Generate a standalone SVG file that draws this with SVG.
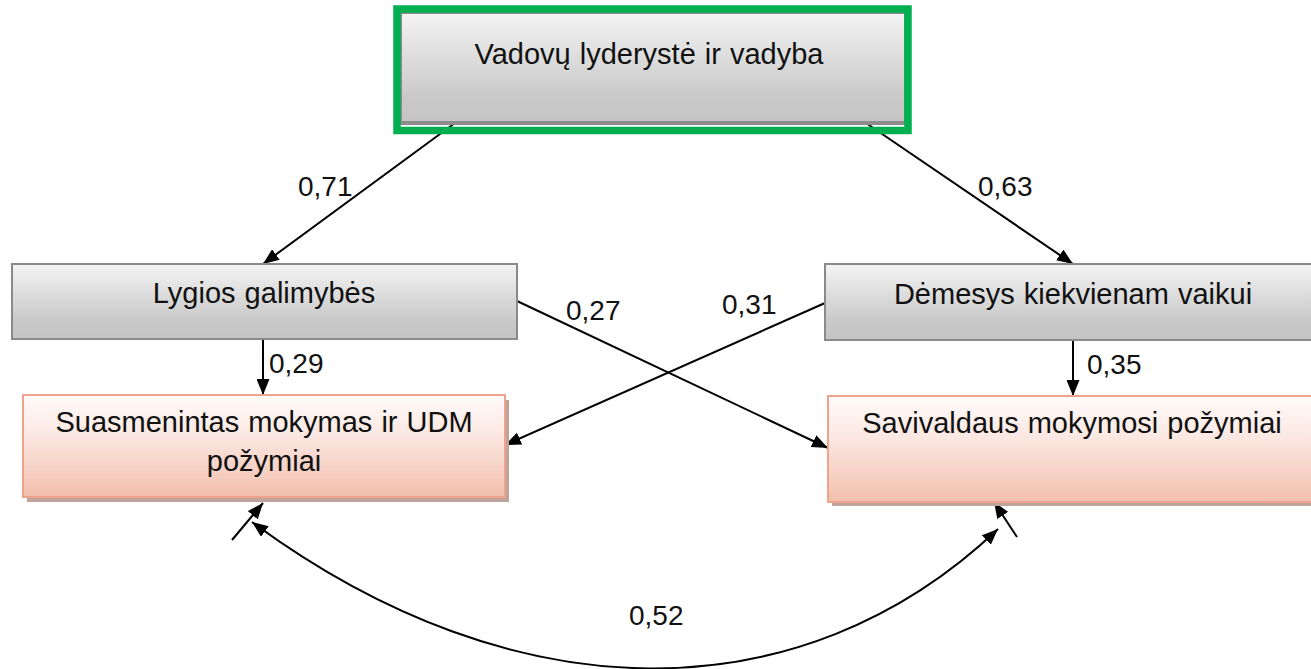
<svg xmlns="http://www.w3.org/2000/svg" width="1311" height="669" viewBox="0 0 1311 669">
<style>
text{font-family:"Liberation Sans",Arial,sans-serif;font-size:28px;fill:#111;}
.lbl{text-anchor:middle;font-size:29px;word-spacing:1px;}
.num{text-anchor:start;}
.gray{fill:url(#gGray);stroke:#8a8a8a;stroke-width:2;}
.pink{fill:url(#gPink);stroke:#eea38c;stroke-width:2;}
.shadow{fill:#bfa49b;}
.conn{fill:none;stroke:#000;stroke-width:2;marker-end:url(#ah);}
</style>
<defs>
<linearGradient id="gGray" x1="0" y1="0" x2="0" y2="1">
<stop offset="0" stop-color="#f4f4f4"/>
<stop offset="0.75" stop-color="#c9c9c9"/>
<stop offset="1" stop-color="#c4c4c4"/>
</linearGradient>
<linearGradient id="gPink" x1="0" y1="0" x2="0" y2="1">
<stop offset="0" stop-color="#fffbfa"/>
<stop offset="0.4" stop-color="#fbe7e1"/>
<stop offset="1" stop-color="#f2bfad"/>
</linearGradient>
<marker id="ah" viewBox="0 0 16 13" refX="16" refY="6.5" markerWidth="16" markerHeight="13" markerUnits="userSpaceOnUse" orient="auto-start-reverse">
<path d="M0,0 L16,6.5 L0,13 z" fill="#000"/>
</marker>
</defs>

<g id="connectors">
<line class="conn" x1="455" y1="123" x2="263" y2="264"/>
<line class="conn" x1="866" y1="123" x2="1073" y2="264"/>
<line class="conn" x1="263" y1="339" x2="263" y2="395"/>
<line class="conn" x1="1073" y1="340" x2="1073" y2="396"/>
<line class="conn" x1="517" y1="301" x2="828" y2="448"/>
<line class="conn" x1="825" y1="303" x2="505" y2="445"/>
<line class="conn" x1="232" y1="540" x2="263" y2="503"/>
<line class="conn" x1="1017" y1="537" x2="994" y2="502"/>
<path class="conn" d="M252,522 C515,716 801,716 998,529" marker-start="url(#ah)"/>
</g>

<g id="labels">
<text class="num" x="298" y="196">0,71</text>
<text class="num" x="978" y="196">0,63</text>
<text class="num" x="269" y="373">0,29</text>
<text class="num" x="1087" y="374">0,35</text>
<text class="num" x="566" y="320">0,27</text>
<text class="num" x="722" y="314">0,31</text>
<text class="num" x="629" y="625">0,52</text>
</g>

<g id="node-vadovu">
<rect class="gray" x="401" y="13" width="504" height="111" stroke="none"/>
<rect x="401" y="121" width="504" height="3" fill="#8c8c8c"/>
<rect x="397" y="9" width="511" height="121.5" fill="none" stroke="#00b050" stroke-width="7.5"/>
<text class="lbl" x="649" y="64">Vadovų lyderystė ir vadyba</text>
</g>

<g id="node-lygios">
<rect class="gray" x="12" y="264" width="505" height="75"/>
<text class="lbl" x="264" y="303">Lygios galimybės</text>
</g>

<g id="node-demesys">
<rect class="gray" x="825" y="264" width="500" height="76"/>
<text class="lbl" x="1073" y="304">Dėmesys kiekvienam vaikui</text>
</g>

<g id="node-suasmenintas">
<rect class="shadow" x="27" y="400" width="482" height="102"/>
<rect class="pink" x="23" y="395" width="482" height="102"/>
<text class="lbl" x="264" y="432">Suasmenintas mokymas ir UDM</text>
<text class="lbl" x="264" y="471">požymiai</text>
</g>

<g id="node-savivaldaus">
<rect class="shadow" x="832" y="401" width="490" height="105"/>
<rect class="pink" x="828" y="396" width="490" height="106"/>
<text class="lbl" x="1072" y="433">Savivaldaus mokymosi požymiai</text>
</g>
</svg>
